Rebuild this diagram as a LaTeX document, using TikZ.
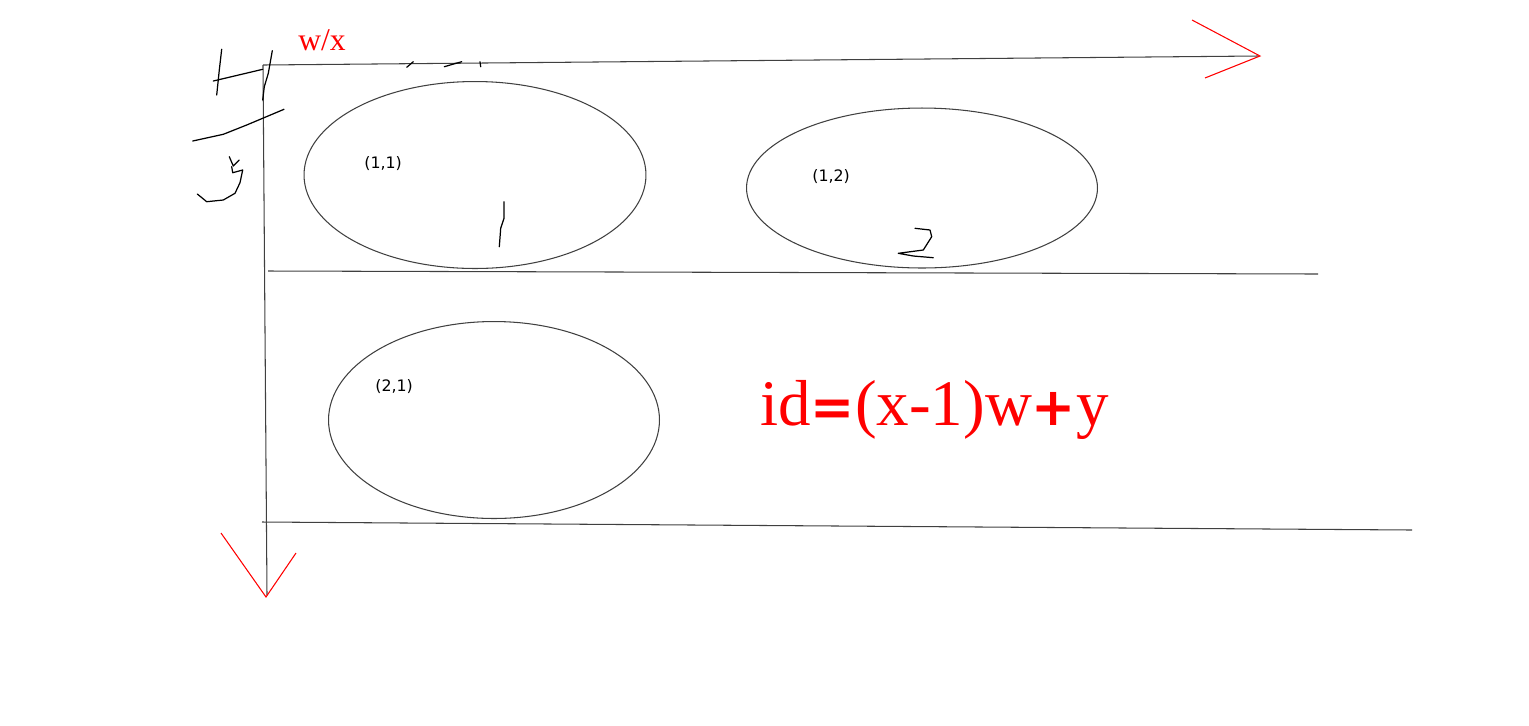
\documentclass[tikz,border=0pt]{standalone}
\usepackage{fontspec}
\setmainfont{Liberation Serif}
\newfontfamily\labelfont{DejaVu Sans}

\tikzset{
  grid line/.style={line width=0.6pt, black!75},
  red tip/.style={line width=0.6pt, red},
  pen/.style={line width=0.7pt, black, line cap=round, line join=round},
  cell label/.style={font=\labelfont\fontsize{9}{10}\selectfont, inner sep=0pt, anchor=base west},
}
\newcommand{\heavysign}[1]{{\labelfont\bfseries\fontsize{30}{32}\selectfont #1}}

\begin{document}
\begin{tikzpicture}[x=0.02cm, y=-0.02cm]
    % Fix the page to the reference size
    \useasboundingbox (0,0) rectangle (1529,725);

    % Axis and row corners
    \coordinate (origin) at (263,65);
    \coordinate (xend) at (1258,56);
    \coordinate (yend) at (267,595);
    \coordinate (row1l) at (268,271);
    \coordinate (row1r) at (1318,274);
    \coordinate (row2l) at (262,522);
    \coordinate (row2r) at (1412,530);

    % Draw the axes and the row lines
    \draw[grid line] (origin) -- (xend);
    \draw[grid line] (origin) -- (yend);
    \draw[grid line] (row1l) -- (row1r);
    \draw[grid line] (row2l) -- (row2r);

    % Red arrow heads drawn by hand
    \draw[red tip] (1192,20) -- (1260,56) -- (1205,78);
    \draw[red tip] (221,533) -- (266,597) -- (296,553);

    % Label the x axis
    \node[red, inner sep=0pt, anchor=base west, font=\fontsize{18}{20}\selectfont] (wx) at (298,50) {w/x};

    % Draw the cells
    \draw[grid line] (475,175) ellipse [x radius=3.42cm, y radius=1.87cm];
    \draw[grid line] (922,188) ellipse [x radius=3.51cm, y radius=1.6cm];
    \draw[grid line] (494,420) ellipse [x radius=3.31cm, y radius=1.97cm];

    % Cell labels
    \node[cell label] (c11) at (364,168) {(1,1)};
    \node[cell label] (c12) at (812,181) {(1,2)};
    \node[cell label] (c21) at (375,391) {(2,1)};

    % The formula
    \node[red, inner sep=0pt, anchor=base west, font=\fontsize{37}{40}\selectfont] (formula) at (760,425)
        {id\heavysign{=}(x-1)w\heavysign{+}y};

    % Handwriting on the left
    \draw[pen] (221.7,49.3) -- (219.3,70) -- (216.7,95);
    \draw[pen] (213.3,81) -- (262.7,69.3);
    \draw[pen] (272.3,50.7) -- (268.3,73.3) -- (264.3,86.7) -- (262.7,100);
    \draw[pen] (192.7,141) -- (223.3,134.3) -- (246.7,125) -- (284,109.3);
    \draw[pen] (229.3,156.7) -- (233.3,166) -- (239.3,160);
    \draw[pen] (231.7,166.7) -- (232.7,172.7) -- (242.7,170) -- (240,182.7)
        -- (235,193.3) -- (223.3,200) -- (206.7,201.7) -- (197.3,194);

    % Small marks on the top line
    \draw[pen] (406.7,67.3) -- (413.3,61.7);
    \draw[pen] (444.3,66.7) -- (461.7,61.7);
    \draw[pen] (480,61.7) -- (480.7,66.7);

    % Hand written 1 and 2
    \draw[pen] (504,201.7) -- (504,218.3) -- (500.7,228.3) -- (499.3,246.7);
    \draw[pen] (915,228.3) -- (930,230) -- (931.7,236.7) -- (923.3,250)
        -- (898.3,253.3) -- (913.3,256) -- (933.3,257.7);
\end{tikzpicture}
\end{document}
